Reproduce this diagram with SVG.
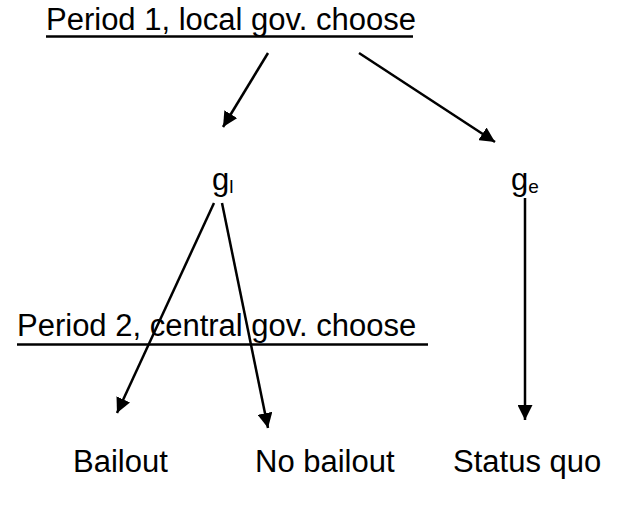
<svg xmlns="http://www.w3.org/2000/svg" width="623" height="507" viewBox="0 0 623 507">
<style>
text{font-family:"Liberation Sans",Arial,sans-serif;fill:#000}
.t{font-size:31px}
.s{font-size:19px}
.ln{stroke:#000;stroke-width:2.5;fill:none}
.ul{stroke:#000;stroke-width:2.5}
</style>
<defs>
<marker id="ah" viewBox="0 0 10 10" refX="10" refY="5" markerWidth="6" markerHeight="6" orient="auto" markerUnits="strokeWidth">
<path d="M0,0 L10,5 L0,10 Z" fill="#000"/>
</marker>
</defs>
<rect width="623" height="507" fill="#fff"/>
<g id="period1">
<text class="t" x="46" y="30">Period 1, local gov. choose</text>
<line class="ul" x1="46" y1="36.5" x2="413" y2="36.5"/>
</g>
<g id="gl">
<text class="t" x="212" y="190">g<tspan class="s" dy="3">l</tspan></text>
</g>
<g id="ge">
<text class="t" x="511" y="190">g<tspan class="s" dy="3">e</tspan></text>
</g>
<g id="period2">
<text class="t" x="17" y="336">Period 2, central gov. choose</text>
<line class="ul" x1="17" y1="344.5" x2="428" y2="344.5"/>
</g>
<g id="bailout"><text class="t" x="73" y="472">Bailout</text></g>
<g id="nobailout"><text class="t" x="255" y="472">No bailout</text></g>
<g id="statusquo"><text class="t" x="453" y="472">Status quo</text></g>
<g id="connectors">
<line class="ln" x1="268" y1="53" x2="223" y2="127" marker-end="url(#ah)"/>
<line class="ln" x1="359" y1="53" x2="495" y2="142" marker-end="url(#ah)"/>
<line class="ln" x1="214" y1="203" x2="117" y2="413" marker-end="url(#ah)"/>
<line class="ln" x1="222" y1="203" x2="268" y2="428" marker-end="url(#ah)"/>
<line class="ln" x1="525" y1="198" x2="525" y2="420" marker-end="url(#ah)"/>
</g>
</svg>
